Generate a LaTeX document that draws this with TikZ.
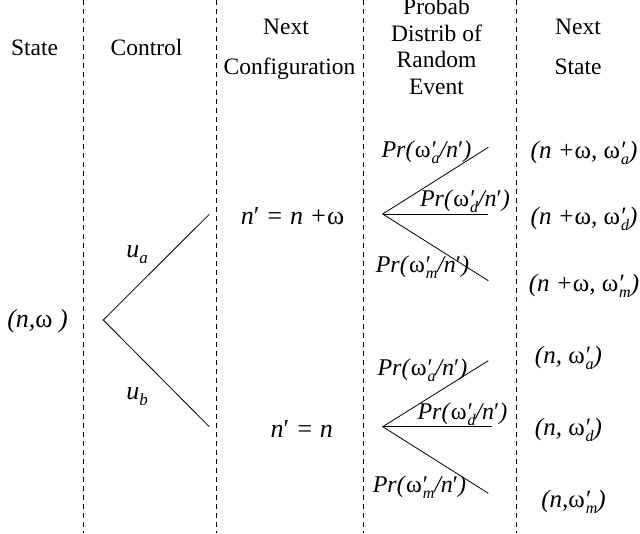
\documentclass[tikz,border=0pt]{standalone}
\usepackage{fontspec}
\setmainfont{Liberation Serif}
\newcommand{\om}{\textup{ω}}
\newcommand{\ps}[1]{\om\makebox[0pt][l]{\kern0.05em\textup{′}}\raisebox{-0.55ex}{\fontsize{16}{16}\selectfont\itshape\kern0.06em #1}}
\newcommand{\np}{\textit{n}\textup{′}}
\begin{document}
\begin{tikzpicture}[x=1pt,y=-1pt,
  hdr/.style={font=\fontsize{23.5}{24}\selectfont, inner sep=0pt, anchor=base},
  lbl/.style={font=\fontsize{26}{26}\selectfont\itshape, inner sep=0pt},
  prl/.style={font=\fontsize{24}{24}\selectfont\itshape, inner sep=0pt},
  nsl/.style={font=\fontsize{25}{26}\selectfont\itshape, inner sep=0pt},
  sep/.style={dash pattern=on 5pt off 4pt, line width=0.8pt},
  br/.style={line width=0.8pt}]
\useasboundingbox (0,0) rectangle (640,533);
% column separators
\foreach \x/\n in {83/s1,216/s2,363/s3,516/s4}{
  \coordinate (\n t) at (\x,0);
  \coordinate (\n b) at (\x,533);
  \draw[sep] (\n t) -- (\n b);
}
% headers
\node[hdr] (hState) at (34.5,55) {State};
\node[hdr] (hControl) at (146.5,55) {Control};
\node[hdr] (hNext1) at (286,34) {Next};
\node[hdr] (hConf) at (289.5,74.5) {Configuration};
\node[hdr] (hP1) at (436.5,14.5) {Probab};
\node[hdr] (hP2) at (436.5,41) {Distrib of};
\node[hdr] (hP3) at (436.5,67.5) {Random};
\node[hdr] (hP4) at (436.5,94) {Event};
\node[hdr] (hNext2) at (578,34) {Next};
\node[hdr] (hState2) at (578,74.5) {State};
% state
\node[lbl] (s0) at (37.5,321) {(n,\om\ )};
% control fork
\coordinate (c0) at (103.3,320);
\coordinate (ca) at (209.3,214.3);
\coordinate (cb) at (209.3,426.7);
\draw[br] (ca) -- (c0) -- (cb);
\node[lbl] (ua) at (137,255) {u\raisebox{-0.5ex}{\fontsize{17}{17}\selectfont a}};
\node[lbl] (ub) at (137,397) {u\raisebox{-0.5ex}{\fontsize{17}{17}\selectfont b}};
% next configurations
\node[lbl] (nc1) at (292.5,216) {\np\ = n +\om};
\node[lbl] (nc2) at (301.7,429) {\np\ = n};
% upper probability fork
\coordinate (p1) at (382.7,214);
\coordinate (p1a) at (488.3,147.3);
\coordinate (p1d) at (488.3,214);
\coordinate (p1m) at (488.3,280.7);
\draw[br] (p1a) -- (p1) -- (p1m);
\draw[br] (p1) -- (p1d);
\node[prl] (pr1a) at (426.5,152) {Pr(\ps{a}/\np)};
\node[prl] (pr1d) at (465,201) {Pr(\ps{d}/\np)};
\node[prl] (pr1m) at (422.5,267) {Pr(\ps{m}/\np)};
% lower probability fork
\coordinate (p2) at (382.7,426.7);
\coordinate (p2a) at (488.3,360.7);
\coordinate (p2d) at (491.7,426.7);
\coordinate (p2m) at (488.3,493.3);
\draw[br] (p2a) -- (p2) -- (p2m);
\draw[br] (p2) -- (p2d);
\node[prl] (pr2a) at (422.5,370) {Pr(\ps{a}/\np)};
\node[prl] (pr2d) at (462.5,414) {Pr(\ps{d}/\np)};
\node[prl] (pr2m) at (419.5,487) {Pr(\ps{m}/\np)};
% next states
\node[nsl] (ns1) at (584,153) {(n +\om, \ps{a})};
\node[nsl] (ns2) at (584,219) {(n +\om, \ps{d})};
\node[nsl] (ns3) at (584,286) {(n +\om, \ps{m})};
\node[nsl] (ns4) at (568.5,358) {(n, \ps{a})};
\node[nsl] (ns5) at (568.5,430) {(n, \ps{d})};
\node[nsl] (ns6) at (573.5,502) {(n,\ps{m})};
\end{tikzpicture}
\end{document}
